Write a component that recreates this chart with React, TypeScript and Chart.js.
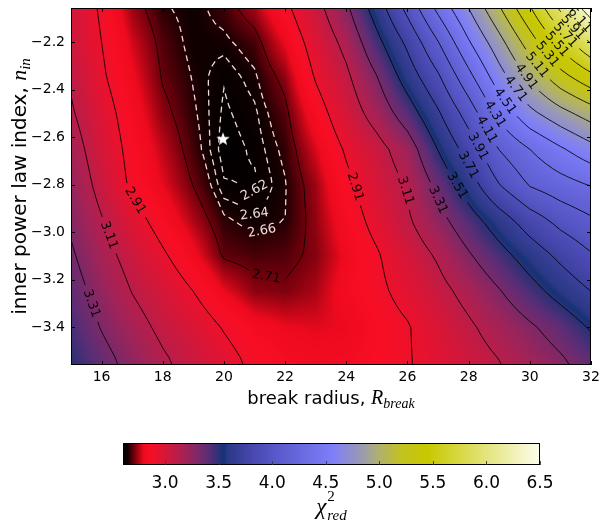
import React, { useEffect, useRef } from "react";
import { Chart, registerables } from "chart.js";

Chart.register(...registerables);

// ---------------- data ----------------
const xNodes = [15, 16, 17, 18, 19, 20, 21, 22, 23, 24, 25, 26, 27, 28, 29, 30, 31, 32];
const yNodes = [-3.55, -3.4, -3.25, -3.1, -2.95, -2.8, -2.65, -2.5, -2.35, -2.2, -2.05];

// reduced chi^2 at each y node (one row per y), along xNodes
const chiRowM355 = [3.51, 3.375, 3.253, 3.138, 3.047, 2.962, 2.88, 2.84, 2.82, 2.83, 2.86, 2.9, 2.962, 3.032, 3.103, 3.19, 3.28, 3.38];
const chiRowM340 = [3.45, 3.3, 3.178, 3.07, 2.99, 2.9, 2.83, 2.8, 2.79, 2.8, 2.85, 2.9, 2.99, 3.084, 3.184, 3.285, 3.39, 3.53];
const chiRowM325 = [3.39, 3.24, 3.105, 3.006, 2.91, 2.8, 2.73, 2.72, 2.75, 2.83, 2.88, 2.955, 3.055, 3.166, 3.298, 3.44, 3.58, 3.71];
const chiRowM310 = [3.335, 3.176, 3.045, 2.93, 2.817, 2.7, 2.685, 2.69, 2.725, 2.81, 2.895, 3.007, 3.13, 3.29, 3.441, 3.595, 3.75, 3.89];
const chiRowM295 = [3.28, 3.12, 2.968, 2.85, 2.754, 2.667, 2.645, 2.66, 2.733, 2.839, 2.955, 3.088, 3.249, 3.425, 3.612, 3.81, 3.97, 4.08];
const chiRowM280 = [3.24, 3.052, 2.88, 2.794, 2.707, 2.623, 2.615, 2.657, 2.743, 2.877, 3.0, 3.125, 3.358, 3.61, 3.907, 4.126, 4.228, 4.32];
const chiRowM265 = [3.19, 3.01, 2.863, 2.766, 2.679, 2.607, 2.625, 2.67, 2.784, 2.927, 3.047, 3.209, 3.517, 3.796, 4.116, 4.31, 4.483, 4.64];
const chiRowM250 = [3.13, 2.974, 2.84, 2.73, 2.666, 2.615, 2.634, 2.692, 2.842, 3.007, 3.185, 3.408, 3.684, 3.996, 4.367, 4.655, 4.838, 5.0];
const chiRowM235 = [3.09, 2.93, 2.81, 2.704, 2.657, 2.622, 2.652, 2.73, 2.92, 3.074, 3.3, 3.595, 3.875, 4.243, 4.62, 4.94, 5.224, 5.435];
const chiRowM220 = [3.04, 2.91, 2.78, 2.69, 2.645, 2.65, 2.682, 2.8, 2.976, 3.16, 3.455, 3.75, 4.1, 4.49, 4.84, 5.21, 5.57, 5.92];
const chiRowM205 = [3.02, 2.89, 2.74, 2.665, 2.645, 2.68, 2.75, 2.88, 3.05, 3.28, 3.61, 3.975, 4.37, 4.72, 5.1, 5.5, 5.96, 6.5];
const chiRows = [chiRowM355, chiRowM340, chiRowM325, chiRowM310, chiRowM295, chiRowM280, chiRowM265, chiRowM250, chiRowM235, chiRowM220, chiRowM205];

const solidLevels = [2.71, 2.91, 3.11, 3.31, 3.51, 3.71, 3.91, 4.11, 4.31, 4.51, 4.71, 4.91, 5.11, 5.31, 5.51, 5.71, 5.91, 6.11, 6.31];
const dashedLevels = [2.62, 2.64, 2.66];

const xTicks = [16, 18, 20, 22, 24, 26, 28, 30, 32];
const yTicks = [-3.4, -3.2, -3.0, -2.8, -2.6, -2.4, -2.2];
const cbTicks = [3.0, 3.5, 4.0, 4.5, 5.0, 5.5, 6.0, 6.5];
const xLimits = [15, 32];
const yLimits = [-3.56, -2.055];

const bestFitX = [19.97];
const bestFitY = [-2.606];

const cmapValues = [2.607, 2.65, 2.71, 2.8, 2.86, 3.0, 3.2, 3.4, 3.55, 3.58, 3.8, 4.0, 4.55, 4.8, 5.0, 5.2, 5.45, 5.8, 6.2, 6.5];
const cmapColors = [
  [0, 0, 0], [18, 0, 0], [112, 0, 12], [238, 10, 30], [248, 14, 36], [215, 22, 55],
  [160, 35, 88], [92, 45, 118], [22, 50, 118], [42, 56, 132], [70, 70, 172], [86, 86, 198],
  [125, 125, 250], [150, 150, 188], [176, 176, 112], [194, 194, 32], [200, 200, 0],
  [218, 218, 80], [238, 238, 170], [253, 253, 238],
];

// ---------------- helpers ----------------
const MATH_FONT = '"Liberation Serif", "DejaVu Serif", serif';
const TEXT_FONT = '"DejaVu Sans", sans-serif';

function valueAt(x: number, y: number): number {
  const nx = xNodes.length, ny = yNodes.length;
  const cx = Math.min(Math.max(x, xNodes[0]), xNodes[nx - 1]);
  const cy = Math.min(Math.max(y, yNodes[0]), yNodes[ny - 1]);
  let i = 0; while (i < nx - 2 && xNodes[i + 1] < cx) i++;
  let j = 0; while (j < ny - 2 && yNodes[j + 1] < cy) j++;
  const tx = (cx - xNodes[i]) / (xNodes[i + 1] - xNodes[i]);
  const ty = (cy - yNodes[j]) / (yNodes[j + 1] - yNodes[j]);
  const r0 = chiRows[j], r1 = chiRows[j + 1];
  return (r0[i] * (1 - tx) + r0[i + 1] * tx) * (1 - ty) + (r1[i] * (1 - tx) + r1[i + 1] * tx) * ty;
}

function cmap(v: number): number[] {
  const n = cmapValues.length;
  if (v <= cmapValues[0]) return cmapColors[0];
  if (v >= cmapValues[n - 1]) return cmapColors[n - 1];
  let k = 0; while (k < n - 2 && cmapValues[k + 1] < v) k++;
  const t = (v - cmapValues[k]) / (cmapValues[k + 1] - cmapValues[k]);
  const a = cmapColors[k], b = cmapColors[k + 1];
  return [a[0] + (b[0] - a[0]) * t, a[1] + (b[1] - a[1]) * t, a[2] + (b[2] - a[2]) * t];
}

type Pt = { x: number; y: number };

function contourPaths(fx: number[], fy: number[], f: number[][], level: number) {
  const nx = fx.length, ny = fy.length;
  const segs: [string, string][] = [];
  const pos = new Map<string, Pt>();
  const hK = (i: number, j: number) => {
    const k = `h${i}_${j}`;
    if (!pos.has(k)) { const a = f[j][i], b = f[j][i + 1]; const t = (level - a) / (b - a); pos.set(k, { x: fx[i] + t * (fx[i + 1] - fx[i]), y: fy[j] }); }
    return k;
  };
  const vK = (i: number, j: number) => {
    const k = `v${i}_${j}`;
    if (!pos.has(k)) { const a = f[j][i], b = f[j + 1][i]; const t = (level - a) / (b - a); pos.set(k, { x: fx[i], y: fy[j] + t * (fy[j + 1] - fy[j]) }); }
    return k;
  };
  for (let j = 0; j < ny - 1; j++) {
    for (let i = 0; i < nx - 1; i++) {
      const v0 = f[j][i], v1 = f[j][i + 1], v2 = f[j + 1][i + 1], v3 = f[j + 1][i];
      let c = 0;
      if (v0 >= level) c |= 1; if (v1 >= level) c |= 2; if (v2 >= level) c |= 4; if (v3 >= level) c |= 8;
      if (c === 0 || c === 15) continue;
      const B = () => hK(i, j), T = () => hK(i, j + 1), L = () => vK(i, j), R = () => vK(i + 1, j);
      const center = (v0 + v1 + v2 + v3) / 4;
      switch (c) {
        case 1: case 14: segs.push([L(), B()]); break;
        case 2: case 13: segs.push([B(), R()]); break;
        case 3: case 12: segs.push([L(), R()]); break;
        case 4: case 11: segs.push([R(), T()]); break;
        case 6: case 9: segs.push([B(), T()]); break;
        case 7: case 8: segs.push([L(), T()]); break;
        case 5:
          if (center >= level) { segs.push([B(), R()]); segs.push([L(), T()]); }
          else { segs.push([L(), B()]); segs.push([R(), T()]); }
          break;
        case 10:
          if (center >= level) { segs.push([L(), B()]); segs.push([R(), T()]); }
          else { segs.push([B(), R()]); segs.push([L(), T()]); }
          break;
      }
    }
  }
  const adj = new Map<string, number[]>();
  segs.forEach((s, idx) => { for (const k of s) { if (!adj.has(k)) adj.set(k, []); adj.get(k)!.push(idx); } });
  const used = new Array(segs.length).fill(false);
  const walk = (startIdx: number, startKey: string) => {
    const keys = [startKey];
    let idx = startIdx, cur = startKey;
    while (idx !== -1 && !used[idx]) {
      used[idx] = true;
      const s = segs[idx];
      const nxt = s[0] === cur ? s[1] : s[0];
      keys.push(nxt);
      cur = nxt;
      const cand = (adj.get(cur) || []).filter((q) => !used[q]);
      idx = cand.length ? cand[0] : -1;
    }
    return keys;
  };
  const paths: { pts: Pt[]; closed: boolean }[] = [];
  adj.forEach((list, k) => {
    if (list.length === 1 && !used[list[0]]) {
      const keys = walk(list[0], k);
      paths.push({ pts: keys.map((q) => pos.get(q)!), closed: false });
    }
  });
  for (let s = 0; s < segs.length; s++) {
    if (!used[s]) {
      const keys = walk(s, segs[s][0]);
      paths.push({ pts: keys.map((q) => pos.get(q)!), closed: true });
    }
  }
  return paths;
}

function drawLabeledPath(ctx: CanvasRenderingContext2D, pts: Pt[], closed: boolean, text: string, color: string, dash: number[], lw: number) {
  const n = pts.length;
  if (n < 2) return;
  const cum = [0];
  for (let k = 1; k < n; k++) cum.push(cum[k - 1] + Math.hypot(pts[k].x - pts[k - 1].x, pts[k].y - pts[k - 1].y));
  const L = cum[n - 1];
  const at = (sIn: number): Pt => {
    let s = sIn;
    if (closed) s = ((s % L) + L) % L; else s = Math.max(0, Math.min(L, s));
    let lo = 0, hi = n - 1;
    while (hi - lo > 1) { const m = (lo + hi) >> 1; if (cum[m] <= s) lo = m; else hi = m; }
    const seg = cum[hi] - cum[lo] || 1;
    const t = (s - cum[lo]) / seg;
    return { x: pts[lo].x + t * (pts[hi].x - pts[lo].x), y: pts[lo].y + t * (pts[hi].y - pts[lo].y) };
  };
  ctx.font = `13px ${TEXT_FONT}`;
  const w = ctx.measureText(text).width;
  let s0 = -1;
  if (L > w * 1.05) {
    if (!closed) s0 = L / 2;
    else {
      let best = -1e9;
      for (let k = 0; k < n; k++) { const sc = pts[k].y + 0.4 * pts[k].x; if (sc > best) { best = sc; s0 = cum[k]; } }
    }
  }
  ctx.strokeStyle = color;
  ctx.lineWidth = lw;
  ctx.setLineDash(dash);
  const piece = (a: number, b: number) => {
    if (b - a < 0.5) return;
    ctx.beginPath();
    const p = at(a); ctx.moveTo(p.x, p.y);
    for (let k = 0; k < n; k++) if (cum[k] > a && cum[k] < b) ctx.lineTo(pts[k].x, pts[k].y);
    const q = at(b); ctx.lineTo(q.x, q.y);
    ctx.stroke();
  };
  if (s0 < 0) { piece(0, L); ctx.setLineDash([]); return; }
  const g = w / 2 + 5;
  if (!closed) {
    if (s0 - g > 0) piece(0, s0 - g);
    if (s0 + g < L) piece(s0 + g, L);
  } else {
    const a = s0 + g, b = s0 - g + L;
    if (b > a) {
      if (a <= L) { piece(a, Math.min(b, L)); if (b > L) piece(0, b - L); }
      else piece(a - L, b - L);
    }
  }
  ctx.setLineDash([]);
  const p1 = at(s0 - w / 2), p2 = at(s0 + w / 2), c = at(s0);
  let ang = Math.atan2(p2.y - p1.y, p2.x - p1.x);
  if (ang > Math.PI / 2) ang -= Math.PI;
  if (ang < -Math.PI / 2) ang += Math.PI;
  ctx.save();
  ctx.translate(c.x, c.y);
  ctx.rotate(ang);
  ctx.fillStyle = color;
  ctx.textAlign = "center";
  ctx.textBaseline = "middle";
  ctx.fillText(text, 0, 0);
  ctx.restore();
}

function drawParts(ctx: CanvasRenderingContext2D, parts: { t: string; font: string; dy: number }[], startX: number, baseY: number) {
  let x = startX;
  for (const p of parts) {
    ctx.font = p.font;
    ctx.fillText(p.t, x, baseY + p.dy);
    x += ctx.measureText(p.t).width;
  }
}
function partsWidth(ctx: CanvasRenderingContext2D, parts: { t: string; font: string; dy: number }[]) {
  let w = 0;
  for (const p of parts) { ctx.font = p.font; w += ctx.measureText(p.t).width; }
  return w;
}

const minusFmt = (v: number, d: number) => (v < 0 ? "\u2212" : "") + Math.abs(v).toFixed(d);

const zeroPad = (s: any) => { s.paddingTop = 0; s.paddingBottom = 0; s.paddingLeft = 0; s.paddingRight = 0; };

// ---------------- plugins ----------------
const heatmapPlugin = {
  id: "heatmap",
  beforeDatasetsDraw(chart: any) {
    const ctx: CanvasRenderingContext2D = chart.ctx;
    const { left, top, right, bottom } = chart.chartArea;
    const xs = chart.scales.x, ys = chart.scales.y;
    const W = Math.round(right - left), H = Math.round(bottom - top);
    const off = document.createElement("canvas");
    off.width = W; off.height = H;
    const octx = off.getContext("2d")!;
    const img = octx.createImageData(W, H);
    const xv: number[] = [];
    for (let i = 0; i < W; i++) xv.push(xs.getValueForPixel(left + i + 0.5));
    for (let j = 0; j < H; j++) {
      const yv = ys.getValueForPixel(top + j + 0.5);
      for (let i = 0; i < W; i++) {
        const c = cmap(valueAt(xv[i], yv));
        const o = (j * W + i) * 4;
        img.data[o] = c[0]; img.data[o + 1] = c[1]; img.data[o + 2] = c[2]; img.data[o + 3] = 255;
      }
    }
    octx.putImageData(img, 0, 0);
    ctx.drawImage(off, left, top);

    // contours
    const NX = (xLimits[1] - xLimits[0]) * 4 + 1, NY = 49;
    const fx: number[] = [], fy: number[] = [];
    for (let i = 0; i < NX; i++) fx.push(xLimits[0] + (i * (xLimits[1] - xLimits[0])) / (NX - 1));
    for (let j = 0; j < NY; j++) fy.push(yLimits[0] + (j * (yLimits[1] - yLimits[0])) / (NY - 1));
    const f = fy.map((y) => fx.map((x) => valueAt(x, y)));
    ctx.save();
    ctx.beginPath();
    ctx.rect(left, top, right - left, bottom - top);
    ctx.clip();
    const toPx = (p: Pt) => ({ x: xs.getPixelForValue(p.x), y: ys.getPixelForValue(p.y) });
    for (const lev of solidLevels) {
      for (const path of contourPaths(fx, fy, f, lev)) {
        drawLabeledPath(ctx, path.pts.map(toPx), path.closed, lev.toFixed(2), "rgba(0,0,0,0.92)", [], 0.9);
      }
    }
    for (const lev of dashedLevels) {
      for (const path of contourPaths(fx, fy, f, lev)) {
        drawLabeledPath(ctx, path.pts.map(toPx), path.closed, lev.toFixed(2), "rgba(255,235,235,0.92)", [6, 4], 1.3);
      }
    }
    ctx.restore();
  },
  afterDraw(chart: any) {
    const ctx: CanvasRenderingContext2D = chart.ctx;
    const { left, top, right, bottom } = chart.chartArea;
    const xs = chart.scales.x, ys = chart.scales.y;
    ctx.save();
    ctx.strokeStyle = "#000";
    ctx.lineWidth = 1;
    ctx.strokeRect(left + 0.5, top + 0.5, right - left - 1, bottom - top - 1);
    ctx.beginPath();
    for (const t of xTicks) {
      const p = Math.round(xs.getPixelForValue(t)) + 0.5;
      ctx.moveTo(p, bottom); ctx.lineTo(p, bottom - 4);
      ctx.moveTo(p, top); ctx.lineTo(p, top + 4);
    }
    for (const t of yTicks) {
      const p = Math.round(ys.getPixelForValue(t)) + 0.5;
      ctx.moveTo(left, p); ctx.lineTo(left + 4, p);
      ctx.moveTo(right, p); ctx.lineTo(right - 4, p);
    }
    ctx.stroke();

    // axis titles
    ctx.fillStyle = "#000";
    ctx.textAlign = "left";
    ctx.textBaseline = "alphabetic";
    const xParts = [
      { t: "break radius, ", font: `18px ${TEXT_FONT}`, dy: 0 },
      { t: "R", font: `italic 20px ${MATH_FONT}`, dy: 0 },
      { t: "break", font: `italic 14px ${MATH_FONT}`, dy: 4 },
    ];
    const xw = partsWidth(ctx, xParts);
    drawParts(ctx, xParts, (left + right) / 2 - xw / 2, bottom + 39);

    const yParts = [
      { t: "inner power law index, ", font: `20px ${TEXT_FONT}`, dy: 0 },
      { t: "n", font: `italic 22px ${MATH_FONT}`, dy: 0 },
      { t: "in", font: `italic 15px ${MATH_FONT}`, dy: 4 },
    ];
    const yw = partsWidth(ctx, yParts);
    ctx.translate(26, (top + bottom) / 2);
    ctx.rotate(-Math.PI / 2);
    drawParts(ctx, yParts, -yw / 2, 0);
    ctx.restore();
  },
};

const colorbarPlugin = {
  id: "colorbar",
  beforeDatasetsDraw(chart: any) {
    const ctx: CanvasRenderingContext2D = chart.ctx;
    const { left, top, right, bottom } = chart.chartArea;
    const xs = chart.scales.x;
    for (let px = Math.floor(left); px < Math.ceil(right); px++) {
      const c = cmap(xs.getValueForPixel(px + 0.5));
      ctx.fillStyle = `rgb(${Math.round(c[0])},${Math.round(c[1])},${Math.round(c[2])})`;
      ctx.fillRect(px, top, 1, bottom - top);
    }
    ctx.save();
    ctx.strokeStyle = "#000";
    ctx.lineWidth = 1;
    ctx.strokeRect(left + 0.5, top + 0.5, right - left - 1, bottom - top - 1);
    ctx.strokeStyle = "rgba(60,60,60,0.9)";
    ctx.beginPath();
    for (const t of cbTicks) {
      const p = Math.round(xs.getPixelForValue(t)) + 0.5;
      ctx.moveTo(p, bottom); ctx.lineTo(p, bottom - 4);
    }
    ctx.stroke();

    // label chi^2_red
    ctx.fillStyle = "#000";
    ctx.textAlign = "left";
    ctx.textBaseline = "alphabetic";
    ctx.font = `italic 23px ${MATH_FONT}`;
    const wc = ctx.measureText("\u03C7").width;
    ctx.font = `italic 15px ${MATH_FONT}`;
    const wr = ctx.measureText("red").width;
    const cx = (left + right) / 2;
    const x0 = cx - (wc + 1 + wr) / 2;
    ctx.font = `italic 23px ${MATH_FONT}`;
    ctx.fillText("\u03C7", x0, 94);
    ctx.font = `15px ${MATH_FONT}`;
    ctx.fillText("2", x0 + wc + 1, 81);
    ctx.font = `italic 15px ${MATH_FONT}`;
    ctx.fillText("red", x0 + wc + 1, 100);
    ctx.restore();
  },
};

function makeStar(): HTMLCanvasElement {
  const c = document.createElement("canvas");
  c.width = 16; c.height = 16;
  const g = c.getContext("2d")!;
  g.fillStyle = "#fff";
  g.beginPath();
  for (let k = 0; k < 10; k++) {
    const r = k % 2 === 0 ? 7 : 2.9;
    const a = -Math.PI / 2 + (k * Math.PI) / 5;
    const x = 8 + r * Math.cos(a), y = 8.5 + r * Math.sin(a);
    if (k === 0) g.moveTo(x, y); else g.lineTo(x, y);
  }
  g.closePath();
  g.fill();
  return c;
}

export default function App() {
  const mainRef = useRef<HTMLCanvasElement>(null);
  const cbRef = useRef<HTMLCanvasElement>(null);

  useEffect(() => {
    Chart.defaults.font.family = TEXT_FONT;
    Chart.defaults.color = "#000";
    const allVals = chiRows.flat();
    const cbMin = Math.min(...allVals);
    const cbMax = Math.max(...allVals);

    const main = new Chart(mainRef.current!, {
      type: "scatter",
      data: {
        datasets: [
          {
            data: bestFitX.map((x, i) => ({ x, y: bestFitY[i] })),
            pointStyle: makeStar() as any,
            pointRadius: 8,
            borderWidth: 0,
          },
        ],
      },
      options: {
        responsive: false,
        animation: false,
        layout: { padding: { top: 2, right: 9, left: 0, bottom: 0 } },
        plugins: { legend: { display: false }, tooltip: { enabled: false } },
        scales: {
          x: {
            type: "linear",
            min: xLimits[0],
            max: xLimits[1],
            grid: { display: false, drawTicks: false },
            border: { display: false },
            afterBuildTicks: (s: any) => { s.ticks = xTicks.map((v) => ({ value: v })); },
            afterFit: (s: any) => { s.height = 55; zeroPad(s); },
            ticks: { font: { size: 14 }, color: "#000", padding: 4, maxRotation: 0, callback: (v: any) => String(v) },
          },
          y: {
            type: "linear",
            min: yLimits[0],
            max: yLimits[1],
            grid: { display: false, drawTicks: false },
            border: { display: false },
            afterBuildTicks: (s: any) => { s.ticks = yTicks.map((v) => ({ value: v })); },
            afterFit: (s: any) => { s.width = 71; zeroPad(s); },
            ticks: { font: { size: 14 }, color: "#000", padding: 6, callback: (v: any) => minusFmt(Number(v), 1) },
          },
        },
      } as any,
      plugins: [heatmapPlugin],
    });

    const cb = new Chart(cbRef.current!, {
      type: "scatter",
      data: { datasets: [] },
      options: {
        responsive: false,
        animation: false,
        layout: { padding: { left: 123, right: 60, top: 23, bottom: 0 } },
        plugins: { legend: { display: false }, tooltip: { enabled: false } },
        scales: {
          x: {
            type: "linear",
            min: cbMin,
            max: cbMax,
            grid: { display: false, drawTicks: false },
            border: { display: false },
            afterBuildTicks: (s: any) => { s.ticks = cbTicks.map((v) => ({ value: v })); },
            afterFit: (s: any) => { s.height = 64; zeroPad(s); },
            ticks: { font: { size: 17 }, color: "#000", padding: 8, maxRotation: 0, callback: (v: any) => Number(v).toFixed(1) },
          },
          y: { display: false, min: 0, max: 1 },
        },
      } as any,
      plugins: [colorbarPlugin],
    });

    return () => { main.destroy(); cb.destroy(); };
  }, []);

  return (
    <div style={{ position: "absolute", left: 0, top: 0, width: 600, height: 529, background: "#fff" }}>
      <canvas ref={mainRef} width={600} height={420} style={{ position: "absolute", left: 0, top: 0, width: 600, height: 420 }} />
      <canvas ref={cbRef} width={600} height={109} style={{ position: "absolute", left: 0, top: 420, width: 600, height: 109 }} />
    </div>
  );
}
